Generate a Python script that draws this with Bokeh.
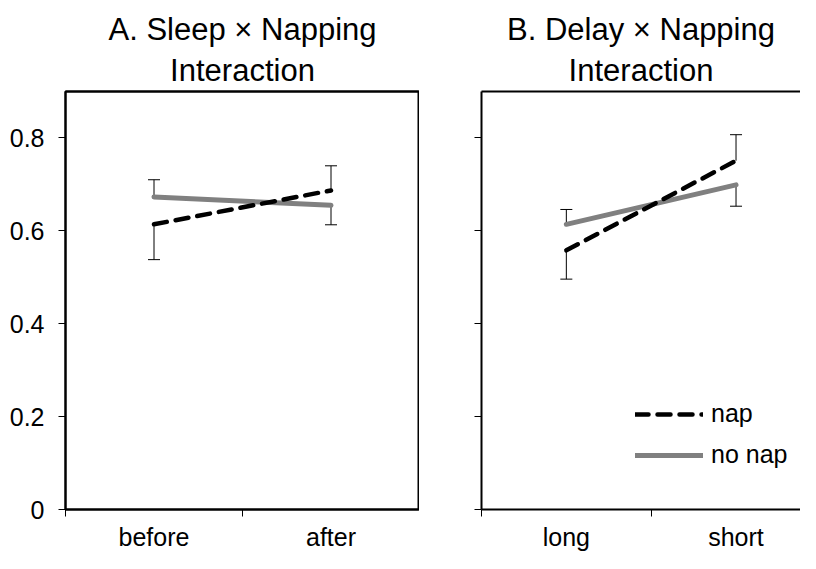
from bokeh.plotting import figure
from bokeh.models import (Whisker, TeeHead, ColumnDataSource, FixedTicker, LinearAxis,
                          Legend, LegendItem, Range1d, Title)
from bokeh.layouts import row
from bokeh.embed import file_html
from bokeh.resources import INLINE

FONT = "Liberation Sans"

# ---- data ----
y_ticks = [0, 0.2, 0.4, 0.6, 0.8]
y_tick_labels = ["0", "0.2", "0.4", "0.6", "0.8"]

a_title = ["A. Sleep × Napping", "Interaction"]
a_categories = ["before", "after"]
a_nap = [0.614, 0.687]
a_nap_err = [0.076, 0.053]
a_nap_dir = [-1, 1]
a_nonap = [0.673, 0.655]
a_nonap_err = [0.037, 0.042]
a_nonap_dir = [1, -1]

b_title = ["B. Delay × Napping", "Interaction"]
b_categories = ["long", "short"]
b_nap = [0.558, 0.751]
b_nap_err = [0.062, 0.056]
b_nap_dir = [-1, 1]
b_nonap = [0.614, 0.699]
b_nonap_err = [0.032, 0.046]
b_nonap_dir = [1, -1]

series_labels = ["nap", "no nap"]


def add_errors(p, xs, vals, errs, dirs):
    up = dict(x=[], lo=[], hi=[])
    dn = dict(x=[], lo=[], hi=[])
    for x, v, e, d in zip(xs, vals, errs, dirs):
        if d > 0:
            up["x"].append(x); up["lo"].append(v); up["hi"].append(v + e)
        else:
            dn["x"].append(x); dn["lo"].append(v - e); dn["hi"].append(v)
    if up["x"]:
        p.add_layout(Whisker(source=ColumnDataSource(up), base="x", lower="lo", upper="hi",
                             line_color="black", line_width=1,
                             upper_head=TeeHead(size=12, line_color="black", line_width=1),
                             lower_head=None))
    if dn["x"]:
        p.add_layout(Whisker(source=ColumnDataSource(dn), base="x", lower="lo", upper="hi",
                             line_color="black", line_width=1,
                             lower_head=TeeHead(size=12, line_color="black", line_width=1),
                             upper_head=None))


def make_panel(title, cats, nap, nap_err, nap_dir, nonap, nonap_err, nonap_dir,
               width, border_left, x_end, show_ylabels, boxed, legend):
    p = figure(width=width, height=553, x_range=Range1d(0, x_end), y_range=Range1d(0, 0.9),
               output_backend="svg", toolbar_location=None,
               min_border_left=border_left, min_border_right=0,
               min_border_top=91, min_border_bottom=39)
    p.title = None
    p.xgrid.visible = False
    p.ygrid.visible = False
    p.background_fill_color = "white"
    p.border_fill_color = "white"
    if boxed:
        p.outline_line_color = "black"
        p.outline_line_width = 2
    else:
        p.outline_line_color = None

    xa = p.below[0]
    ya = p.left[0]

    # top border line (frame top), added first so it sits next to the frame
    top = LinearAxis(ticker=FixedTicker(ticks=[], minor_ticks=[]), axis_line_width=2,
                     axis_line_color="black", major_tick_out=0, major_tick_in=0,
                     minor_tick_out=0, minor_tick_in=0, major_label_standoff=0)
    p.add_layout(top, "above")

    # title lines: first added sits closest to the frame
    for i, line in enumerate(reversed(title)):
        p.add_layout(Title(text=line, align="center", text_font=FONT, text_font_size="31px",
                           text_font_style="normal", text_color="black",
                           standoff=8 if i == 0 else 0, offset=0), "above")

    xs = [i + 0.5 for i in range(len(cats))]
    bounds = list(range(len(cats) + 1))

    xa.ticker = FixedTicker(ticks=xs, minor_ticks=bounds)
    xa.major_label_overrides = {x: c for x, c in zip(xs, cats)}
    xa.major_tick_out = 0
    xa.major_tick_in = 0
    xa.minor_tick_out = 7
    xa.minor_tick_in = 0
    xa.minor_tick_line_color = "black"
    xa.minor_tick_line_width = 1
    xa.axis_line_width = 2
    xa.axis_line_color = "black"
    xa.major_label_text_font = FONT
    xa.major_label_text_font_size = "25px"
    xa.major_label_text_color = "black"
    xa.major_label_standoff = 6

    if show_ylabels:
        ya.ticker = FixedTicker(ticks=y_ticks, minor_ticks=[])
        ya.major_label_overrides = {t: l for t, l in zip(y_ticks, y_tick_labels)}
    else:
        ya.ticker = FixedTicker(ticks=[], minor_ticks=y_ticks)
    ya.major_tick_out = 7
    ya.major_tick_in = 0
    ya.minor_tick_out = 7
    ya.minor_tick_in = 0
    ya.major_tick_line_width = 1
    ya.minor_tick_line_width = 1
    ya.major_tick_line_color = "black"
    ya.minor_tick_line_color = "black"
    ya.axis_line_width = 2
    ya.axis_line_color = "black"
    ya.major_label_text_font = FONT
    ya.major_label_text_font_size = "25px"
    ya.major_label_text_color = "black"
    ya.major_label_standoff = 14

    add_errors(p, xs, nap, nap_err, nap_dir)
    add_errors(p, xs, nonap, nonap_err, nonap_dir)

    r_nonap = p.line(xs, nonap, line_color="#808080", line_width=5, line_cap="round")
    r_nap = p.line(xs, nap, line_color="black", line_width=4.5, line_dash="13 9",
                   line_cap="round")

    if legend:
        lg = Legend(items=[LegendItem(label=series_labels[0], renderers=[r_nap]),
                           LegendItem(label=series_labels[1], renderers=[r_nonap])],
                    location=(154, 40), border_line_color=None, background_fill_alpha=0,
                    padding=0, margin=0, spacing=12, glyph_width=68, glyph_height=24,
                    label_height=24, label_standoff=8, label_text_font=FONT,
                    label_text_font_size="25px", label_text_color="black")
        p.add_layout(lg)
    return p


pa = make_panel(a_title, a_categories, a_nap, a_nap_err, a_nap_dir,
                a_nonap, a_nonap_err, a_nonap_dir,
                width=419, border_left=65, x_end=2, show_ylabels=True, boxed=True, legend=False)
pb = make_panel(b_title, b_categories, b_nap, b_nap_err, b_nap_dir,
                b_nonap, b_nonap_err, b_nonap_dir,
                width=381, border_left=62, x_end=1.88, show_ylabels=False, boxed=False,
                legend=True)

layout = row(pa, pb)
open("out.html", "w").write(file_html(layout, INLINE))
